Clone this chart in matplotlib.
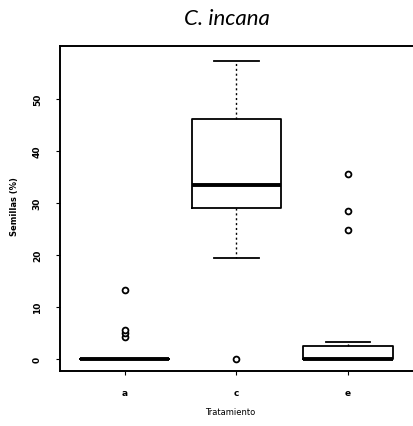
import matplotlib
matplotlib.use("Agg")
import matplotlib.pyplot as plt

# Porcentaje de semillas por tratamiento (resumen de cajas)
tratamientos = ["a", "c", "e"]
q1 = [0.0, 29.0, 0.0]
medianas = [0.0, 33.5, 0.0]
q3 = [0.0, 46.2, 2.5]
bigote_inf = [0.0, 19.4, 0.0]
bigote_sup = [0.0, 57.3, 3.2]
atipicos = [[4.3, 5.0, 5.6, 13.2], [0.0], [24.8, 28.5, 35.5]]

stats = []
for i, t in enumerate(tratamientos):
    stats.append({
        "label": t,
        "q1": q1[i],
        "med": medianas[i],
        "q3": q3[i],
        "whislo": bigote_inf[i],
        "whishi": bigote_sup[i],
        "fliers": atipicos[i],
    })

fig = plt.figure(figsize=(4.13, 4.27), dpi=100)
ax = fig.add_axes([0.145, 0.129, 0.86, 0.761])

ax.bxp(stats, positions=[1, 2, 3], widths=0.8, patch_artist=False,
       boxprops=dict(color="black", linewidth=1.3),
       medianprops=dict(color="black", linewidth=2.8),
       whiskerprops=dict(color="black", linewidth=1.0, linestyle=(0, (1.5, 2))),
       capprops=dict(color="black", linewidth=1.3),
       flierprops=dict(marker="o", markerfacecolor="white", markeredgecolor="black",
                       markersize=4.2, markeredgewidth=1.3))

ax.set_xlim(0.42, 3.6)
ax.set_ylim(-2.3, 60.2)
ax.set_yticks([0, 10, 20, 30, 40, 50])
ax.set_xticks([1, 2, 3])
ax.set_xticklabels(tratamientos)

for side in ["left", "top", "bottom"]:
    ax.spines[side].set_linewidth(1.4)
ax.spines["right"].set_visible(False)

ax.tick_params(axis="both", direction="out", length=3, width=0.8, labelsize=6.5)
ax.tick_params(axis="y", pad=10)
ax.tick_params(axis="x", pad=9)
for lbl in ax.get_yticklabels():
    lbl.set_rotation(90)
    lbl.set_va("center")
    lbl.set_fontweight("bold")
for lbl in ax.get_xticklabels():
    lbl.set_fontweight("bold")

ax.set_ylabel("Semillas (%)", fontsize=6, fontweight="bold")
ax.yaxis.set_label_coords(-0.115, 0.51)
ax.set_xlabel("Tratamiento", fontsize=6)
ax.xaxis.set_label_coords(0.48, -0.11)

fig.text(0.55, 0.955, "C. incana", fontsize=16, style="italic", family="Lato",
         ha="center", va="center")

fig.savefig("out.png", dpi=100)
